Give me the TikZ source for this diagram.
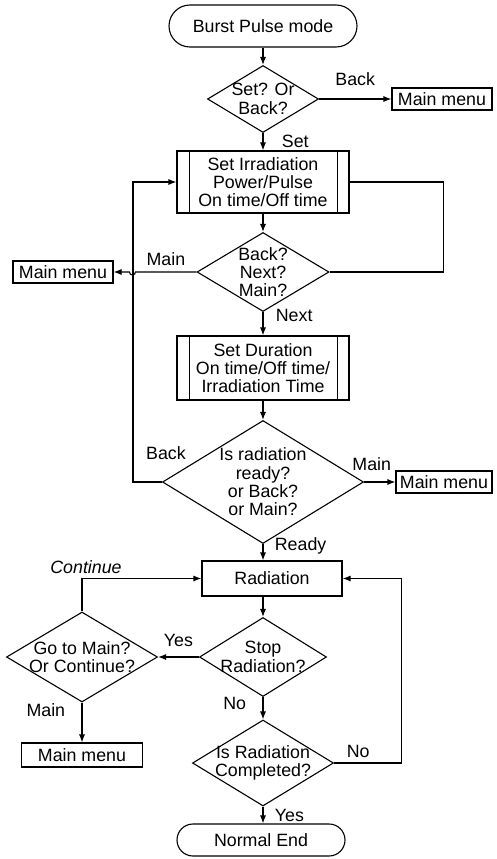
\documentclass[tikz,border=0pt]{standalone}
\usepackage{fontspec}
\setmainfont{Liberation Sans}
\usetikzlibrary{shapes.geometric,arrows.meta}

\begin{document}
\begin{tikzpicture}[x=1pt,y=-1pt,line width=1.1pt,>={Latex[length=8pt,width=6pt]},
    font=\fontsize{17.8}{18.3}\selectfont]
    \tikzstyle{terminal}=[draw,rounded corners=16pt,minimum width=168pt,minimum height=32pt]
    \tikzstyle{decision}=[draw,shape=diamond,align=center,inner sep=-6pt]
    \tikzstyle{process}=[draw,align=center,minimum width=172pt,minimum height=62pt]
    \tikzstyle{menu}=[draw,inner sep=2pt,minimum width=100pt,minimum height=22pt]
    \tikzstyle{tag}=[inner sep=1pt]

    \useasboundingbox (0,0) rectangle (497,859);

    \node[terminal,minimum width=188pt,minimum height=42pt,rounded corners=21pt] at (263,26) (start) {Burst Pulse mode};
    \node[decision,minimum width=111pt,minimum height=67pt,shape aspect=1.66] at (263,99) (d1) {Set? Or\\Back?};
    \node[menu] at (442,99) (mm1) {Main menu};
    \node[process] at (263,182) (p1) {Set Irradiation\\Power/Pulse\\On time/Off time};
    \node[decision,minimum width=132pt,minimum height=79pt,shape aspect=1.67] at (263,272) (d2) {Back?\\Next?\\Main?};
    \node[menu] at (63,272) (mm2) {Main menu};
    \node[process,minimum height=64pt] at (263,368) (p2) {Set Duration\\On time/Off time/\\Irradiation Time};
    \node[decision,minimum width=201pt,minimum height=123pt,shape aspect=1.63] at (263,482) (d3) {Is radiation\\ready?\\or Back?\\or Main?};
    \node[menu,minimum width=96pt] at (444,482) (mm3) {Main menu};
    \node[draw,minimum width=140pt,minimum height=35pt] at (272,578.5) (rad) {Radiation};
    \node[decision,minimum width=127pt,minimum height=79pt,shape aspect=1.6] at (263,657) (d4) {Stop\\Radiation?};
    \node[decision,minimum width=151pt,minimum height=90pt,shape aspect=1.68] at (82,657) (d5) {Go to Main?\\Or Continue?};
    \node[menu,minimum width=121pt,minimum height=24pt] at (82,755) (mm4) {Main menu};
    \node[decision,minimum width=141pt,minimum height=86pt,shape aspect=1.64] at (263,763) (d6) {Is Radiation\\Completed?};
    \node[terminal] at (261,840) (stop) {Normal End};

    % double sides of the process boxes
    \draw ([xshift=13pt]p1.north west) -- ([xshift=13pt]p1.south west);
    \draw ([xshift=-12pt]p1.north east) -- ([xshift=-12pt]p1.south east);
    \draw ([xshift=13pt]p2.north west) -- ([xshift=13pt]p2.south west);
    \draw ([xshift=-12pt]p2.north east) -- ([xshift=-12pt]p2.south east);

    \draw[->] (start) -- (d1);
    \draw[->] (d1) -- (mm1) node [midway, above=9pt] {Back};
    \draw[->] (d1) -- (p1) node [midway, right=15pt] {Set};
    \draw[->] (p1) -- (d2);
    \draw[->] (d2.west) -- ++(-61,0) node [midway, above=2pt] {Main}
        arc[start angle=0, end angle=-180, radius=3pt] -- (mm2.east);
    \draw (d2.east) -- ++(114,0) |- (p1.east);
    \draw[->] (d2) -- (p2) node [pos=0.13, right=9pt] {Next};
    \draw[->] (p2) -- (d3);
    \draw[->] (d3.west) -- ++(-29,0) |- (p1.west);
    \node[tag] (lbBack) at (166,453) {Back};
    \draw[->] (d3.east) -- (mm3.west) node [midway, above=7pt, xshift=-8pt] {Main};
    \draw[->] (d3.south) -- (d3.south |- rad.north) node [pos=0.12, right=8pt] {Ready};
    \draw[->] (d4.north |- rad.south) -- (d4.north);
    \draw[->] (d4) -- (d5) node [midway, above=6pt] {Yes};
    \draw[->] (d5.north) |- (rad.west);
    \node[tag] (lbCont) at (86,567) {\itshape Continue};
    \draw[->] (d5) -- (mm4) node [pos=0.2, left=13pt] {Main};
    \draw[->] (d4) -- (d6) node [pos=0.27, left=13pt] {No};
    \draw[->] (d6.east) -- ++(67,0) node [pos=0.36, above=1pt] {No} |- (rad.east);
    \draw[->] (d6.south) -- (d6.south |- stop.north) node [midway, right=8pt] {Yes};
\end{tikzpicture}
\end{document}
